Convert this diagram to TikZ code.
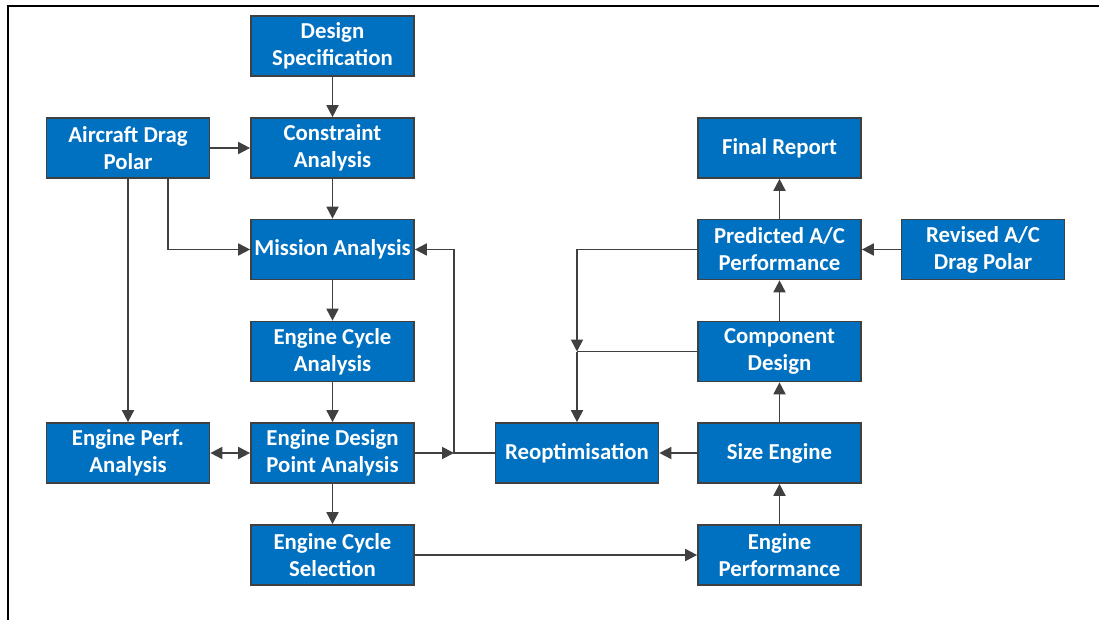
\documentclass[tikz,border=0pt]{standalone}
\usepackage{fontspec}
\setmainfont{Carlito}
\usetikzlibrary{arrows.meta}
\definecolor{boxblue}{HTML}{0070C0}
\definecolor{edgegrey}{HTML}{404040}
\begin{document}
\begin{tikzpicture}[x=1pt,y=-1pt,
  box/.style={draw=edgegrey, line width=1.7pt, fill=boxblue, text=white,
    font=\bfseries\fontsize{22.8}{27}\selectfont, align=center,
    minimum width=163pt, minimum height=60pt, inner sep=0pt},
  link/.style={draw=edgegrey, line width=1.8pt},
  arr/.style={link, -{Triangle[length=12pt,width=12pt]}},
  darr/.style={link, {Triangle[length=12pt,width=12pt]}-{Triangle[length=12pt,width=12pt]}}]
\useasboundingbox (0,0) rectangle (1099,620);
% frame
\draw[black, line width=2.5pt] (8,620) -- (8,6) -- (1099,6);

% column 1
\node[box] (adp) at (128,148) {Aircraft Drag\\Polar};
\node[box] (epa) at (128,453) {Engine Perf.\\Analysis};
% column 2
\node[box] (ds)   at (332.5,46)    {Design\\Specification};
\node[box] (ca)   at (332.5,148)   {Constraint\\Analysis};
\node[box] (ma)   at (332.5,249.5) {Mission Analysis};
\node[box] (eca)  at (332.5,351.5) {Engine Cycle\\Analysis};
\node[box] (edpa) at (332.5,453)   {Engine Design\\Point Analysis};
\node[box] (ecs)  at (332.5,555)   {Engine Cycle\\Selection};
% column 3
\node[box] (ro) at (577,453) {Reoptimisation};
% column 4
\node[box] (fr) at (779.5,148)   {Final Report};
\node[box] (pp) at (779.5,249.5) {Predicted A/C\\Performance};
\node[box] (cd) at (779.5,351.5) {Component\\Design};
\node[box] (se) at (779.5,453)   {Size Engine};
\node[box] (ep) at (779.5,555)   {Engine\\Performance};
% column 5
\node[box] (rdp) at (983,249.5) {Revised A/C\\Drag Polar};

% junctions
\coordinate (j1) at (454,453);
\coordinate (j2) at (ro.north |- cd.west);

% main chain
\draw[arr] (ds) -- (ca);
\draw[arr] (adp) -- (ca);
\draw[arr] (ca) -- (ma);
\draw[arr] (ma) -- (eca);
\draw[arr] (eca) -- (edpa);
\draw[arr] (edpa) -- (ecs);
\draw[darr] (epa) -- (edpa);
\draw[arr] (adp) -- (epa);
\draw[arr] ([xshift=40pt]adp.south) |- (ma.west);

% feedback loop
\draw[arr] (edpa.east) -- (j1);
\draw[arr] (ro.west) -- (j1) |- (ma.east);
\draw[arr] (ecs.east) -- (ep.west);
\draw[arr] (ep) -- (se);
\draw[arr] (se) -- (ro);
\draw[arr] (se) -- (cd);
\draw[arr] (cd) -- (pp);
\draw[arr] (rdp) -- (pp);
\draw[arr] (pp) -- (fr);
\draw[arr] (pp.west) -| (j2);
\draw[link] (cd.west) -- (j2);
\draw[arr] (j2) -- (ro.north);
\end{tikzpicture}
\end{document}
